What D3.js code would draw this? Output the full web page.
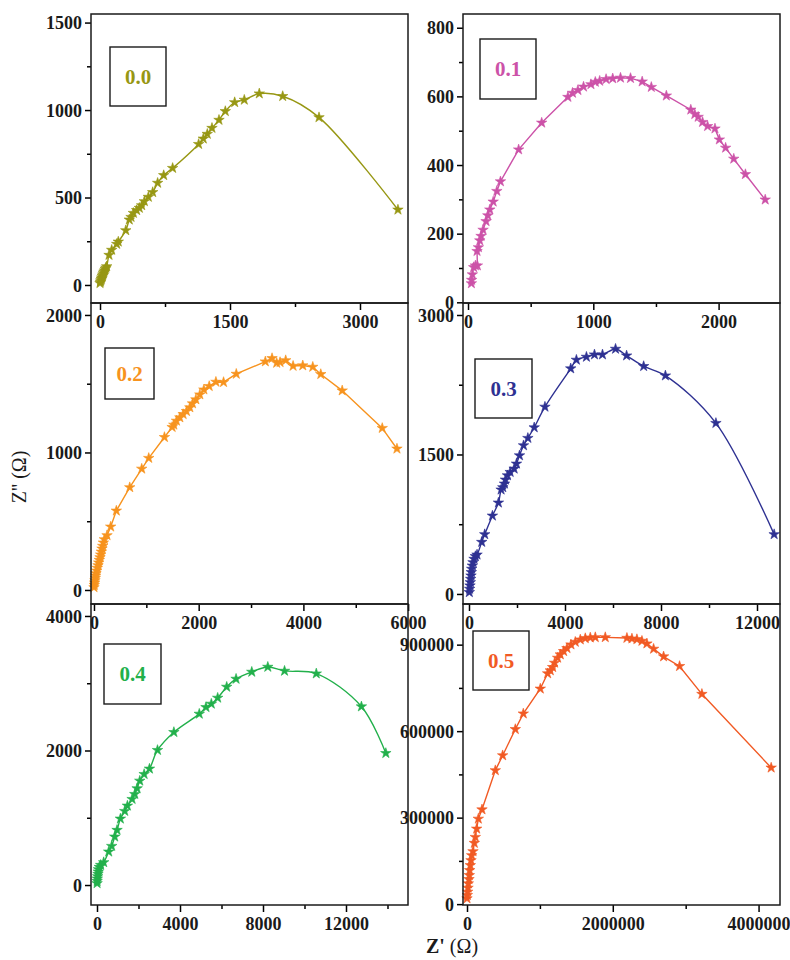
<!DOCTYPE html>
<html>
<head>
<meta charset="utf-8">
<script src="https://cdn.jsdelivr.net/npm/d3@7"></script>
<style>
  body { margin: 0; background: #fff; }
  svg { display: block; }
</style>
</head>
<body>
<svg id="chart" width="790" height="960"></svg>
<script>
// Nyquist plots (Z' vs Z'') for six compositions
const labels = ["0.0", "0.1", "0.2", "0.3", "0.4", "0.5"];
const colors = ["#979713", "#cc52a8", "#f7931e", "#2e3192", "#22b04b", "#f15a24"];

const s00 = [[0,10],[5,18],[10,26],[15,34],[20,42],[26,50],[32,58],[38,66],[45,74],[52,82],[60,90],[68,98],[77,106],
  [104,171],[135,200],[193,234],[211,247],[297,312],[338,373],[358,388],[385,411],[423,427],[454,440],[481,455],
  [512,478],[558,503],[608,530],[665,583],[735,627],[838,668],[1138,805],[1192,836],[1238,863],[1292,897],
  [1373,943],[1446,993],[1554,1044],[1665,1058],[1838,1094],[2108,1079],[2527,958],[3438,430]];

const s01 = [[27,55],[29,65],[35,81],[45,102],[59,107],[75,107],[72,149],[83,160],[94,180],[104,193],[120,211],
  [144,236],[158,253],[174,270],[201,293],[230,324],[259,352],[404,445],[588,523],[797,598],[834,610],[877,618],
  [922,628],[981,635],[1016,642],[1051,645],[1102,650],[1155,652],[1217,654],[1297,653],[1390,643],[1463,627],
  [1583,602],[1778,561],[1810,548],[1837,540],[1872,525],[1912,513],[1971,506],[2006,474],[2056,450],[2121,418],
  [2214,373],[2372,299]];

const s02 = [[0,19],[6,36],[13,53],[19,70],[26,87],[32,104],[38,121],[51,140],[64,160],[77,179],[89,199],[102,218],
  [115,237],[128,257],[140,278],[153,300],[166,320],[179,344],[198,368],[249,397],[319,460],[427,576],[683,746],
  [912,881],[1046,959],[1346,1111],[1493,1184],[1525,1201],[1576,1230],[1640,1254],[1703,1278],[1767,1300],
  [1831,1327],[1882,1356],[1946,1385],[2022,1421],[2099,1457],[2201,1482],[2329,1513],[2475,1511],[2718,1571],
  [3273,1661],[3401,1685],[3490,1651],[3554,1656],[3662,1670],[3803,1629],[3988,1632],[4179,1622],[4332,1569],
  [4741,1450],[5506,1177],[5787,1027]];

const s03 = [[14,18],[28,54],[42,90],[56,125],[70,161],[84,197],[98,233],[112,269],[139,304],[167,340],[209,376],
  [265,405],[335,422],[530,558],[655,641],[976,841],[1227,981],[1338,1121],[1408,1146],[1478,1185],[1519,1228],
  [1603,1274],[1715,1310],[1882,1346],[1979,1400],[2105,1489],[2272,1597],[2453,1676],[2718,1790],[3164,2012],
  [4238,2424],[4475,2517],[4893,2549],[5228,2574],[5562,2574],[6106,2635],[6566,2563],[7277,2449],[8183,2348],
  [10288,1837],[12714,641]];

const s04 = [[5,25],[8,59],[16,94],[32,129],[48,163],[64,198],[70,233],[113,267],[177,297],[322,337],[564,495],
  [709,579],[854,718],[967,817],[1128,985],[1337,1099],[1466,1178],[1692,1277],[1821,1351],[1934,1436],
  [2062,1549],[2272,1648],[2529,1728],[2916,2005],[3705,2272],[4930,2544],[5252,2643],[5510,2693],[5816,2782],
  [6251,2945],[6702,3064],[7459,3168],[8232,3242],[9038,3183],[10568,3143],[12743,2653],[13919,1960]];

const s05 = [[0,19600],[4600,31000],[9100,42600],[13700,56400],[18300,71400],[27400,86300],[32000,100000],
  [36600,117400],[45700,134700],[54900,151900],[64000,169200],[82300,183000],[100600,211800],[114300,232500],
  [132600,261300],[155400,295800],[205700,328000],[388600,463900],[489100,515700],[662800,606600],[772500,660700],
  [1005700,747000],[1106200,800000],[1142900,810300],[1174900,821800],[1202300,836800],[1243400,854000],
  [1280000,865600],[1325700,877100],[1371400,887500],[1426200,900100],[1485700,909300],[1554300,917400],
  [1622800,922000],[1691400,924300],[1760000,925400],[1897000,925400],[2194000,923100],[2262700,920800],
  [2331000,918500],[2400000,912800],[2468000,903600],[2560000,885200],[2697000,858700],[2916000,825300],
  [3222600,728600],[4173000,473100]];

const series = [s00, s01, s02, s03, s04, s05];

// Axis ranges and tick values for each panel
const xDomains = [[-104, 3554], [-40, 2490], [-57, 5998], [-250, 12958], [-289, 14988], [-54900, 4294000]];
const yDomains = [[-103, 1549], [-2, 840], [-102, 2087], [-108, 3129], [-297, 4178], [-3000, 1041000]];
const xMajor = [[0,1500,3000], [0,1000,2000], [0,2000,4000,6000], [0,4000,8000,12000], [0,4000,8000,12000], [0,2000000,4000000]];
const xMinor = [[750,2250], [500,1500], [1000,3000,5000], [2000,6000,10000], [2000,6000,10000,14000], [1000000,3000000]];
const yMajor = [[0,500,1000,1500], [0,200,400,600,800], [0,1000,2000], [0,1500,3000], [0,2000,4000], [0,300000,600000,900000]];
const yMinor = [[250,750,1250], [100,300,500,700], [500,1500], [750,2250], [1000,3000], [150000,450000,750000]];
// fitted curves are drawn smooth, the rest as straight segments
const smooth = [true, false, false, true, true, false];

// Panel frames and legend boxes in pixels
const frames = [
  {l: 91,  r: 408, t: 14,  b: 303, box: [110, 47, 56, 59]},
  {l: 463, r: 780, t: 14,  b: 303, box: [480, 39, 56, 60]},
  {l: 91,  r: 408, t: 303, b: 604, box: [105, 348, 49, 51]},
  {l: 463, r: 780, t: 303, b: 604, box: [475, 359, 57, 59]},
  {l: 91,  r: 408, t: 604, b: 905, box: [104, 644, 57, 60]},
  {l: 463, r: 780, t: 604, b: 905, box: [473, 631, 56, 59]}
];

const svg = d3.select("#chart");
const FONT = "'Liberation Serif', 'Times New Roman', serif";
const fmt = d3.format("d");
const star = d3.symbol().type(d3.symbolStar).size(34);

frames.forEach((f, i) => {
  const x = d3.scaleLinear().domain(xDomains[i]).range([f.l, f.r]);
  const y = d3.scaleLinear().domain(yDomains[i]).range([f.b, f.t]);
  const g = svg.append("g");

  // curve and markers
  const line = d3.line()
    .x(d => x(d[0])).y(d => y(d[1]))
    .curve(smooth[i] ? d3.curveCatmullRom.alpha(0.5) : d3.curveLinear);
  g.append("path").datum(series[i])
    .attr("d", line).attr("fill", "none")
    .attr("stroke", colors[i]).attr("stroke-width", 1.4);
  g.selectAll("path.pt").data(series[i]).join("path")
    .attr("class", "pt")
    .attr("transform", d => `translate(${x(d[0])},${y(d[1])})`)
    .attr("d", star).attr("fill", colors[i])
    .attr("stroke", colors[i]).attr("stroke-width", 0.6);

  // axes
  const xa = g.append("g").attr("transform", `translate(0,${f.b})`)
    .call(d3.axisBottom(x).tickValues(xMajor[i]).tickFormat(fmt).tickSize(7).tickPadding(5).tickSizeOuter(0));
  const xm = g.append("g").attr("transform", `translate(0,${f.b})`)
    .call(d3.axisBottom(x).tickValues(xMinor[i]).tickFormat("").tickSize(4).tickSizeOuter(0));
  const ya = g.append("g").attr("transform", `translate(${f.l},0)`)
    .call(d3.axisLeft(y).tickValues(yMajor[i]).tickFormat(fmt).tickSize(6).tickPadding(3).tickSizeOuter(0));
  const ym = g.append("g").attr("transform", `translate(${f.l},0)`)
    .call(d3.axisLeft(y).tickValues(yMinor[i]).tickFormat("").tickSize(4).tickSizeOuter(0));
  [xa, xm, ya, ym].forEach(a => {
    a.select(".domain").remove();
    a.selectAll(".tick line").attr("stroke", "#000").attr("stroke-width", 1.5);
    a.selectAll(".tick text")
      .attr("fill", "#1a1a1a")
      .style("font-family", FONT).style("font-weight", "bold").style("font-size", "18px");
  });
  ya.selectAll(".tick text").attr("dy", "0.34em");

  // frame
  g.append("rect")
    .attr("x", f.l).attr("y", f.t).attr("width", f.r - f.l).attr("height", f.b - f.t)
    .attr("fill", "none").attr("stroke", "#1a1a1a").attr("stroke-width", 1.5);

  // legend box
  const [bx, by, bw, bh] = f.box;
  g.append("rect").attr("x", bx).attr("y", by).attr("width", bw).attr("height", bh)
    .attr("fill", "#fff").attr("stroke", "#1a1a1a").attr("stroke-width", 1.4);
  g.append("text").attr("x", bx + bw / 2).attr("y", by + bh / 2).attr("dy", "0.35em")
    .attr("text-anchor", "middle").attr("fill", colors[i])
    .style("font-family", FONT).style("font-weight", "bold").style("font-size", "21px")
    .text(labels[i]);
});

// shared axis titles
svg.append("text")
  .attr("transform", "translate(26,477) rotate(-90)")
  .attr("text-anchor", "middle").attr("fill", "#1a1a1a")
  .style("font-family", FONT).style("font-size", "20px")
  .text("Z'' (Ω)");

const xt = svg.append("text")
  .attr("x", 452).attr("y", 953).attr("text-anchor", "middle").attr("fill", "#1a1a1a")
  .style("font-family", FONT).style("font-size", "20px");
xt.append("tspan").style("font-weight", "bold").text("Z'");
xt.append("tspan").text(" (Ω)");
</script>
</body>
</html>
